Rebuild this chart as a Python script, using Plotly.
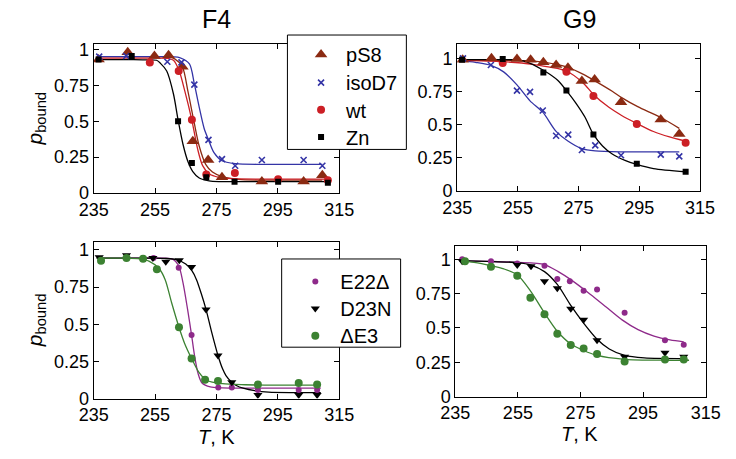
import plotly.graph_objects as go

W, H = 736, 459
FONT = "Liberation Sans, Arial, Helvetica, sans-serif"

# ---------------- colours ----------------
C_PS8 = "#8B2A12"
C_ISO = "#3434A6"
C_WT = "#CC1F25"
C_ZN = "#000000"
C_E22 = "#8E2A8A"
C_D23 = "#000000"
C_DE3 = "#3C8232"

# ---------------- axis ticks ----------------
X_TICKS = [235, 255, 275, 295, 315]
Y_TICKS = [0, 0.25, 0.5, 0.75, 1]
Y_TICK_TEXT = ["0", "0.25", "0.5", "0.75", "1"]

# ================= F4 (top-left) : data points =================
T_F4_pS8 = [236.6, 246.1, 254.8, 259.4, 263.9, 267.3, 272.3, 276.8, 289.8, 303.4, 309.5]
P_F4_pS8 = [0.93, 0.98, 0.955, 0.96, 0.88, 0.36, 0.23, 0.11, 0.08, 0.08, 0.124]
T_F4_iso = [236.8, 245.6, 259.0, 263.6, 267.8, 272.4, 276.8, 281.1, 289.8, 303.4, 309.5]
P_F4_iso = [0.95, 0.955, 0.915, 0.91, 0.755, 0.37, 0.236, 0.19, 0.23, 0.23, 0.19]
T_F4_wt = [253.3, 262.7, 267.0, 271.7, 281.0, 295.1, 311.3]
P_F4_wt = [0.91, 0.85, 0.51, 0.13, 0.14, 0.097, 0.09]
T_F4_zn = [236.6, 247.4, 262.5, 267.0, 271.7, 280.9, 295.1, 311.3]
P_F4_zn = [0.93, 0.955, 0.50, 0.21, 0.11, 0.079, 0.079, 0.072]

# F4 fitted curves
CT_F4_pS8 = [236, 250, 256, 259, 261.4, 263.9, 265.7, 267.8, 269.4, 271.5, 273.7, 276.8, 282.2, 290, 309.5]
CP_F4_pS8 = [0.95, 0.95, 0.95, 0.948, 0.935, 0.88, 0.71, 0.485, 0.326, 0.20, 0.146, 0.115, 0.095, 0.09, 0.09]
CT_F4_iso = [236, 250, 258, 261, 263.0, 266.2, 267.8, 269.4, 271.0, 272.4, 274.2, 276.8, 281.1, 290, 309.5]
CP_F4_iso = [0.95, 0.95, 0.95, 0.949, 0.944, 0.90, 0.76, 0.597, 0.45, 0.372, 0.282, 0.225, 0.205, 0.20, 0.20]
CT_F4_wt = [236, 250, 256, 259, 261.0, 262.8, 264.7, 267.0, 268.9, 270.5, 272.6, 275.8, 281, 290, 311.3]
CP_F4_wt = [0.94, 0.94, 0.94, 0.938, 0.925, 0.855, 0.71, 0.507, 0.304, 0.191, 0.135, 0.11, 0.10, 0.097, 0.097]
CT_F4_zn = [236, 248, 253, 255.5, 256.7, 258.8, 261.0, 262.5, 264.1, 265.7, 267.3, 269.4, 272.6, 276, 290, 311.3]
CP_F4_zn = [0.93, 0.93, 0.928, 0.925, 0.905, 0.85, 0.69, 0.51, 0.34, 0.22, 0.15, 0.105, 0.085, 0.08, 0.08, 0.08]

# ================= G9 (top-right) : data points =================
T_G9_pS8 = [236.8, 246.3, 254.7, 259.2, 263.4, 267.6, 271.5, 276.1, 280.3, 289.0, 302.1, 308.2]
P_G9_pS8 = [0.99, 1.0, 0.995, 0.99, 0.97, 0.95, 0.93, 0.83, 0.84, 0.67, 0.54, 0.43]
T_G9_iso = [236.9, 246.1, 254.7, 259.0, 263.2, 267.6, 271.6, 276.1, 280.5, 289.0, 302.1, 308.2]
P_G9_iso = [1.0, 0.95, 0.757, 0.748, 0.607, 0.417, 0.425, 0.31, 0.345, 0.27, 0.275, 0.262]
T_G9_wt = [250.0, 271.0, 279.9, 294.2, 310.3]
P_G9_wt = [0.965, 0.90, 0.716, 0.505, 0.364]
T_G9_zn = [236.6, 250.0, 263.4, 271.0, 279.9, 294.2, 310.3]
P_G9_zn = [0.99, 0.995, 0.893, 0.757, 0.427, 0.206, 0.146]

CT_G9_pS8 = [236, 250, 257.6, 263.9, 271.3, 276.6, 280.8, 286.1, 289.2, 294.5, 301.8, 308.2]
CP_G9_pS8 = [0.985, 0.985, 0.983, 0.97, 0.934, 0.879, 0.825, 0.752, 0.704, 0.636, 0.558, 0.473]
CT_G9_iso = [236, 241, 246.1, 250.3, 254.7, 259.0, 263.2, 267.6, 271.6, 276.1, 280.5, 289.2, 308.2]
CP_G9_iso = [0.985, 0.97, 0.947, 0.898, 0.80, 0.68, 0.595, 0.45, 0.376, 0.32, 0.303, 0.296, 0.296]
CT_G9_wt = [236, 250, 260, 265, 271.0, 276.6, 279.9, 285.0, 289.2, 294.2, 299.7, 305.0, 310.3]
CP_G9_wt = [0.985, 0.975, 0.955, 0.935, 0.905, 0.813, 0.728, 0.631, 0.57, 0.51, 0.449, 0.408, 0.376]
CT_G9_zn = [236, 245, 252.4, 257.6, 263.4, 268.2, 271.0, 274.0, 277.1, 279.9, 282.9, 286.1, 290.3, 294.2, 299.7, 310.3]
CP_G9_zn = [0.99, 0.99, 0.99, 0.976, 0.91, 0.833, 0.757, 0.667, 0.558, 0.427, 0.34, 0.279, 0.231, 0.201, 0.17, 0.146]

# ================= F4 mutants (bottom-left) =================
T_F4_e22 = [254.5, 262.7, 266.9, 275.6, 280.0, 288.5, 301.8, 307.8]
P_F4_e22 = [0.945, 0.88, 0.427, 0.074, 0.074, 0.057, 0.057, 0.057]
T_F4_d23 = [236.8, 245.7, 254.3, 258.5, 262.9, 266.9, 271.6, 275.5, 280.0, 288.5, 301.8, 307.8]
P_F4_d23 = [0.95, 0.965, 0.945, 0.92, 0.93, 0.885, 0.60, 0.29, 0.11, 0.024, 0.024, 0.024]
T_F4_de3 = [237.4, 245.7, 251.1, 255.6, 262.8, 266.9, 271.3, 275.5, 288.5, 301.8, 307.8]
P_F4_de3 = [0.928, 0.945, 0.94, 0.87, 0.48, 0.27, 0.126, 0.118, 0.094, 0.105, 0.094]

CT_F4_e22 = [236, 250, 258, 261, 262.7, 264.1, 265.6, 266.9, 267.9, 269.0, 270.3, 273.0, 277, 290, 309]
CP_F4_e22 = [0.945, 0.945, 0.945, 0.935, 0.895, 0.78, 0.60, 0.427, 0.285, 0.17, 0.105, 0.078, 0.072, 0.07, 0.07]
CT_F4_d23 = [236, 250, 258, 262, 265, 267, 268.5, 270, 271.6, 273.4, 275.5, 277, 278.1, 280, 281.3, 284, 287.5, 292, 300, 309]
CP_F4_d23 = [0.945, 0.945, 0.943, 0.935, 0.905, 0.86, 0.80, 0.71, 0.60, 0.45, 0.29, 0.20, 0.155, 0.11, 0.09, 0.068, 0.053, 0.043, 0.04, 0.04]
CT_F4_de3 = [236, 245, 250, 253, 256.3, 258.3, 260.4, 262.8, 264.6, 266.9, 269.3, 271.9, 277, 284.4, 295, 309]
CP_F4_de3 = [0.945, 0.945, 0.94, 0.925, 0.875, 0.80, 0.645, 0.48, 0.373, 0.27, 0.176, 0.122, 0.10, 0.093, 0.09, 0.09]

# ================= G9 mutants (bottom-right) =================
T_G9_e22 = [237.2, 246.4, 254.8, 263.5, 267.6, 271.6, 276.0, 280.3, 289.1, 302.0, 308.0]
P_G9_e22 = [1.0, 0.986, 0.97, 0.953, 0.857, 0.84, 0.77, 0.78, 0.61, 0.41, 0.378]
T_G9_d23 = [237.2, 254.8, 259.2, 263.5, 267.6, 271.9, 276.0, 280.3, 289.1, 302.0, 308.0]
P_G9_d23 = [0.985, 0.958, 0.95, 0.84, 0.79, 0.64, 0.56, 0.41, 0.29, 0.32, 0.29]
T_G9_de3 = [238.1, 246.4, 254.8, 259.0, 263.5, 267.6, 271.9, 276.0, 280.3, 289.1, 302.0, 308.0]
P_G9_de3 = [0.986, 0.946, 0.88, 0.72, 0.60, 0.458, 0.376, 0.35, 0.31, 0.255, 0.27, 0.27]

CT_G9_e22 = [236.2, 245, 254.8, 263.5, 267.9, 271.9, 278.1, 283.2, 288.3, 293.4, 298.5, 303.6, 308.0]
CP_G9_e22 = [0.99, 0.985, 0.978, 0.962, 0.91, 0.852, 0.746, 0.653, 0.559, 0.488, 0.441, 0.413, 0.399]
CT_G9_d23 = [236.2, 245, 254.8, 259.2, 263.5, 267.6, 271.9, 276.0, 280.3, 284.2, 289.1, 295.4, 308.7]
CP_G9_d23 = [0.99, 0.985, 0.976, 0.958, 0.91, 0.817, 0.664, 0.535, 0.418, 0.347, 0.30, 0.282, 0.277]
CT_G9_de3 = [236.2, 241, 246.4, 250.5, 254.8, 259.0, 263.5, 267.6, 271.9, 276.0, 280.3, 289.1, 302.0, 309.7]
CP_G9_de3 = [0.99, 0.977, 0.953, 0.93, 0.887, 0.77, 0.61, 0.476, 0.383, 0.336, 0.30, 0.272, 0.265, 0.265]

# ---------------- layout geometry (pixels) ----------------
PANELS = {
    # name: (x0, x1, ytop, ybottom, ymax)
    "1": (82, 338, 41, 195, 1.04),
    "2": (461, 714, 41, 193, 1.11),
    "3": (82, 338, 246, 407, 1.05),
    "4": (459, 720, 250, 405, 1.094),
}
# one legend per entry: (legend id, left x px, item centre y px)
LEGEND_POS = {
    "legend": (293, 48), "legend2": (293, 77), "legend3": (293, 105), "legend4": (293, 133),
    "legend5": (287, 282), "legend6": (287, 310), "legend7": (287, 338),
}
LEGEND_TOP_OFFSET = 16

fig = go.Figure()


def px_x(x):
    return x / W


def px_y(y):
    return 1 - y / H


def axn(ax, letter):
    return letter + ("" if ax == "1" else ax)


def add_curve(ax, T, P, color):
    fig.add_trace(go.Scatter(
        x=T, y=P, mode="lines", line=dict(color=color, width=1.3, shape="spline", smoothing=0.8),
        xaxis=axn(ax, "x"), yaxis=axn(ax, "y"), showlegend=False, hoverinfo="skip"))


def add_points(ax, T, P, name, symbol, size, color, legend=None, line=None):
    marker = dict(symbol=symbol, size=size, color=color,
                  line=line if line is not None else dict(width=0))
    fig.add_trace(go.Scatter(
        x=T, y=P, mode="markers", name=name, marker=marker,
        xaxis=axn(ax, "x"), yaxis=axn(ax, "y"),
        showlegend=legend is not None, legend=legend if legend else "legend"))


XLINE = dict(width=1.6, color=C_ISO)

# curves first, markers on top
add_curve("1", CT_F4_pS8, CP_F4_pS8, C_PS8)
add_curve("1", CT_F4_iso, CP_F4_iso, C_ISO)
add_curve("1", CT_F4_wt, CP_F4_wt, C_WT)
add_curve("1", CT_F4_zn, CP_F4_zn, C_ZN)
add_curve("2", CT_G9_pS8, CP_G9_pS8, C_PS8)
add_curve("2", CT_G9_iso, CP_G9_iso, C_ISO)
add_curve("2", CT_G9_wt, CP_G9_wt, C_WT)
add_curve("2", CT_G9_zn, CP_G9_zn, C_ZN)
add_curve("3", CT_F4_e22, CP_F4_e22, C_E22)
add_curve("3", CT_F4_d23, CP_F4_d23, C_D23)
add_curve("3", CT_F4_de3, CP_F4_de3, C_DE3)
add_curve("4", CT_G9_e22, CP_G9_e22, C_E22)
add_curve("4", CT_G9_d23, CP_G9_d23, C_D23)
add_curve("4", CT_G9_de3, CP_G9_de3, C_DE3)

add_points("1", T_F4_pS8, P_F4_pS8, "pS8", "triangle-up", 11, C_PS8, legend="legend")
add_points("1", T_F4_iso, P_F4_iso, "isoD7", "x-thin", 6, C_ISO, legend="legend2", line=XLINE)
add_points("1", T_F4_wt, P_F4_wt, "wt", "circle", 8, C_WT, legend="legend3")
add_points("1", T_F4_zn, P_F4_zn, "Zn", "square", 6, C_ZN, legend="legend4")
add_points("2", T_G9_pS8, P_G9_pS8, "pS8", "triangle-up", 11, C_PS8)
add_points("2", T_G9_iso, P_G9_iso, "isoD7", "x-thin", 6, C_ISO, line=XLINE)
add_points("2", T_G9_wt, P_G9_wt, "wt", "circle", 8, C_WT)
add_points("2", T_G9_zn, P_G9_zn, "Zn", "square", 6, C_ZN)
add_points("3", T_F4_e22, P_F4_e22, "E22\u0394", "circle", 6, C_E22, legend="legend5")
add_points("3", T_F4_d23, P_F4_d23, "D23N", "triangle-down", 8, C_D23, legend="legend6")
add_points("3", T_F4_de3, P_F4_de3, "\u0394E3", "circle", 8, C_DE3, legend="legend7")
add_points("4", T_G9_e22, P_G9_e22, "E22\u0394", "circle", 6, C_E22)
add_points("4", T_G9_d23, P_G9_d23, "D23N", "triangle-down", 8, C_D23)
add_points("4", T_G9_de3, P_G9_de3, "\u0394E3", "circle", 8, C_DE3)

axis_common = dict(
    showline=True, linecolor="black", linewidth=1, mirror="ticks",
    ticks="inside", ticklen=5, tickwidth=1, tickcolor="black",
    showgrid=False, zeroline=False,
    tickfont=dict(family=FONT, size=18, color="black"),
)

layout = dict(
    width=W, height=H, margin=dict(l=0, r=0, t=0, b=0),
    paper_bgcolor="white", plot_bgcolor="white",
    font=dict(family=FONT, size=18, color="black"),
)
for key, (x0, x1, yt, yb, ymax) in PANELS.items():
    sfx = "" if key == "1" else key
    layout["xaxis" + sfx] = dict(
        axis_common, domain=[px_x(x0), px_x(x1)], range=[235, 315],
        tickvals=X_TICKS, anchor="y" + sfx)
    layout["yaxis" + sfx] = dict(
        axis_common, domain=[px_y(yb), px_y(yt)], range=[0, ymax],
        tickvals=Y_TICKS, ticktext=Y_TICK_TEXT, anchor="x" + sfx)

legend_common = dict(
    bgcolor="rgba(0,0,0,0)", borderwidth=0, xanchor="left", yanchor="top",
    font=dict(family=FONT, size=20, color="black"), tracegroupgap=0,
    itemsizing="trace", itemwidth=40,
)
for lid, (lx, lyc) in LEGEND_POS.items():
    layout[lid] = dict(legend_common, x=px_x(lx), y=px_y(lyc - LEGEND_TOP_OFFSET))

layout["shapes"] = [
    dict(type="rect", xref="paper", yref="paper",
         x0=px_x(284), x1=px_x(408), y0=px_y(150), y1=px_y(32),
         line=dict(color="black", width=1), fillcolor="white", layer="above"),
    dict(type="rect", xref="paper", yref="paper",
         x0=px_x(278), x1=px_x(402), y0=px_y(354), y1=px_y(263),
         line=dict(color="black", width=1), fillcolor="white", layer="above"),
]

ann = []
ann.append(dict(text="F4", x=px_x(210), y=px_y(15), xref="paper", yref="paper",
                showarrow=False, font=dict(family=FONT, size=25), xanchor="center", yanchor="middle"))
ann.append(dict(text="G9", x=px_x(588), y=px_y(15), xref="paper", yref="paper",
                showarrow=False, font=dict(family=FONT, size=25), xanchor="center", yanchor="middle"))
for ycen in (118, 326):
    ann.append(dict(text="<i>p</i><sub>bound</sub>", x=px_x(22), y=px_y(ycen), xref="paper", yref="paper",
                    showarrow=False, textangle=-90, font=dict(family=FONT, size=21),
                    xanchor="center", yanchor="middle"))
ann.append(dict(text="<i>T</i>, K", x=px_x(210), y=px_y(447), xref="paper", yref="paper",
                showarrow=False, font=dict(family=FONT, size=20), xanchor="center", yanchor="middle"))
ann.append(dict(text="<i>T</i>, K", x=px_x(589), y=px_y(444), xref="paper", yref="paper",
                showarrow=False, font=dict(family=FONT, size=20), xanchor="center", yanchor="middle"))
layout["annotations"] = ann

fig.update_layout(**layout)
fig.write_html("out.html", config={"displayModeBar": False},
               post_script="document.body.style.margin='0';")
